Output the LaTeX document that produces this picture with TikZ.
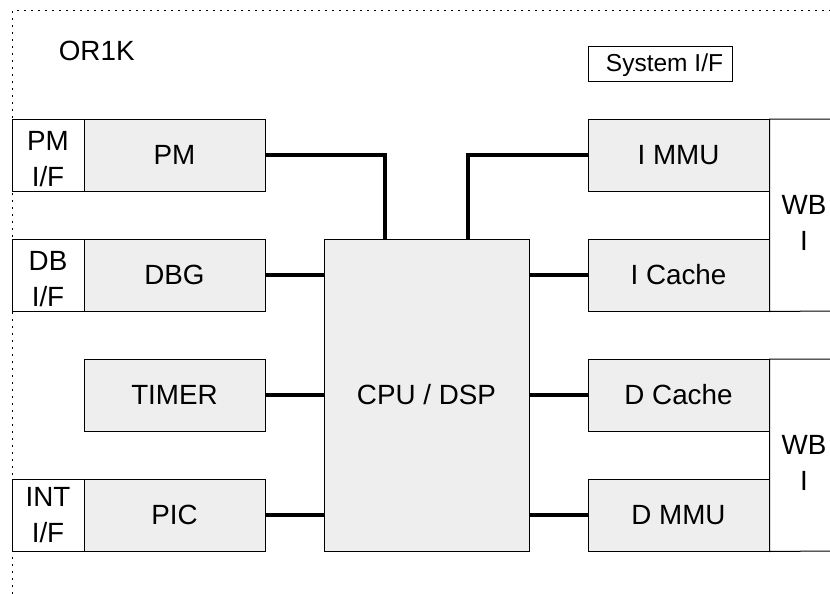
\documentclass[tikz,border=0pt]{standalone}
\usepackage{fontspec}
\setmainfont{Liberation Sans}
\definecolor{boxfill}{HTML}{EEEEEE}
\begin{document}
\begin{tikzpicture}[x=1pt,y=-1pt,
  every node/.style={font=\fontsize{27.8}{36}\selectfont, inner sep=0pt},
  blk/.style={draw=black, line width=1pt, fill=boxfill, minimum width=181pt, minimum height=72pt},
  ifbox/.style={draw=black, line width=1pt, fill=white, minimum width=72pt, minimum height=72pt},
  lbl/.style={align=center, anchor=north},
  bus/.style={line width=4pt, line join=miter, line cap=butt},
  frame/.style={line width=1pt, dash pattern=on 2pt off 5pt},
  side/.style={line width=1pt, draw=black},
]
\useasboundingbox (0,0) rectangle (830,594);
% outer dotted frame
\draw[frame] (12,594) -- (12,11) -- (830,11);
\node[anchor=base] (title) at (96.7,60) {OR1K};
% system interface box
\node[draw=black, line width=1pt, minimum width=144pt, minimum height=35pt,
      font=\fontsize{24.5}{28}\selectfont, text height=17.6pt, text depth=3pt] (sysif) at (660.5,64.2) {\hspace*{8pt}System I/F};

% left column
\node[ifbox] (pmif)  at (48,155) {};
\node[ifbox] (dbif)  at (48,275) {};
\node[ifbox] (intif) at (48,515) {};
\node[lbl] (pmifl)  at (48,131.1) {PM\\I/F};
\node[lbl] (dbifl)  at (48,251.1) {DB\\I/F};
\node[lbl] (intifl) at (48,487.1) {INT\\I/F};
\node[blk] (pm)    at (174.5,155) {PM};
\node[blk] (dbg)   at (174.5,275) {DBG};
\node[blk] (timer) at (174.5,395) {TIMER};
\node[blk] (pic)   at (174.5,515) {PIC};

% CPU
\node[blk, minimum width=205pt, minimum height=312pt] (cpu) at (426.5,395) {CPU / DSP};

% right column
\node[blk] (immu)   at (678.5,155) {I MMU};
\node[blk] (icache) at (678.5,275) {I Cache};
\node[blk] (dcache) at (678.5,395) {D Cache};
\node[blk] (dmmu)   at (678.5,515) {D MMU};

% WB I boxes (open on the right)
\draw[side] (830,119) -| (immu.north east) -- (icache.south east) -- (830,311);
\draw[side] (830,359) -| (dcache.north east) -- (dmmu.south east) -- (830,551);
\node[lbl] (wbi1) at (804,195.1) {WB\\I};
\node[lbl] (wbi2) at (804,435.1) {WB\\I};

% buses
\draw[bus] (pm.east) -| ([xshift=-41.5pt]cpu.north);
\draw[bus] ([xshift=41.5pt]cpu.north) |- (immu.west);
\draw[bus] (dbg.east) -- (dbg.east -| cpu.west);
\draw[bus] (timer.east) -- (timer.east -| cpu.west);
\draw[bus] (pic.east) -- (pic.east -| cpu.west);
\draw[bus] (icache.west -| cpu.east) -- (icache.west);
\draw[bus] (dcache.west -| cpu.east) -- (dcache.west);
\draw[bus] (dmmu.west -| cpu.east) -- (dmmu.west);
\end{tikzpicture}
\end{document}
